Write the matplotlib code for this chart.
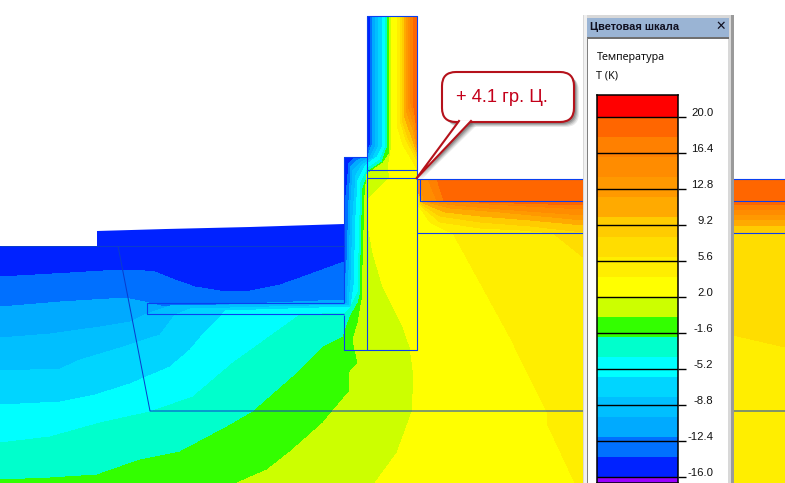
import matplotlib
matplotlib.use("Agg")
import matplotlib.pyplot as plt
from matplotlib.patches import Polygon, Rectangle, FancyBboxPatch

# ---- colour scale -------------------------------------------------
scale_ticks = [20.0, 16.4, 12.8, 9.2, 5.6, 2.0, -1.6, -5.2, -8.8, -12.4, -16.0]
band_edges = [22.2, 20, 18, 16, 14, 12, 10, 8, 6, 4, 2, 0, -2, -4, -6, -8, -10, -12, -14, -16, -16.6]
band_colors = ['#ff0000', '#ff6600', '#ff8000', '#ff8c00', '#ff9900', '#ffaa00', '#ffcc00',
               '#ffdd00', '#ffee00', '#ffff00', '#ccff00', '#33ff00', '#00ffcc', '#00ffff',
               '#00d5ff', '#00bfff', '#00aaff', '#0070ff', '#0022ff', '#9900ff']

# ---- temperature field: model outline and isotherms (picture coords) ----
domain = [(0, 246), (97, 246), (97, 231), (166, 229), (250, 227), (344, 224), (344, 157), (367, 157),
          (367, 16), (417, 16), (417, 179), (785, 179), (785, 483), (0, 483)]
# cold side of wall and ground: each boundary separates a band from the next warmer one
iso_0070ff = [(370, 16), (370, 145), (366, 154), (355, 158), (349, 163), (347, 185), (344, 215), (344, 262), (300, 278), (280, 285),
              (250, 291), (220, 291), (195, 287), (175, 280), (155, 272), (135, 270), (120, 270), (70, 273), (0, 277)]
iso_00aaff = [(372, 16), (372, 145), (368, 156), (358, 160), (351, 166), (349, 200), (347, 260), (344, 300), (165, 307),
              (145, 302), (125, 298), (60, 302), (0, 307)]
iso_00bfff = [(375, 16), (375, 147), (370, 157), (360, 163), (353, 170), (351, 200), (349, 270), (347, 303), (170, 306),
              (147, 314), (130, 322), (100, 327), (50, 334), (0, 338)]
iso_00d5ff = [(378, 16), (378, 147), (373, 158), (362, 165), (356, 175), (353, 215), (351, 280), (349, 305), (190, 309),
              (175, 315), (160, 335), (120, 348), (80, 360), (60, 369), (0, 371)]
iso_00ffff = [(382, 16), (382, 147), (377, 157), (366, 165), (358, 180), (356, 215), (354, 285), (351, 307), (225, 311),
              (222, 315), (205, 332), (190, 350), (170, 367), (130, 384), (95, 395), (60, 402), (0, 405)]
iso_00ffcc = [(385, 16), (385, 148), (380, 160), (368, 168), (360, 185), (360, 215), (358, 292), (350, 308), (345, 313),
              (300, 315), (233, 363), (193, 397), (150, 412), (100, 423), (50, 437), (0, 443)]
iso_33ff00 = [(387, 16), (387, 148), (382, 162), (370, 170), (363, 188), (362, 215), (360, 295), (358, 303), (350, 317),
              (343, 337), (323, 347), (293, 377), (253, 412), (227, 427), (180, 452), (140, 460), (97, 475), (50, 478), (0, 480)]
iso_ccff00 = [(389, 16), (389, 140), (390, 153), (383, 163), (373, 170), (367, 174), (365, 195), (362, 300), (358, 323),
              (353, 340), (358, 363), (350, 372), (349, 392), (332, 412), (323, 423), (290, 452), (267, 470), (237, 483)]
iso_ffff00 = [(391, 16), (391, 150), (388, 168), (390, 178), (367, 200), (367, 220), (373, 253), (383, 287), (403, 327),
              (410, 347), (414, 377), (412, 412), (397, 453), (375, 483)]
cold_isotherms = [('#0070ff', iso_0070ff), ('#00aaff', iso_00aaff), ('#00bfff', iso_00bfff), ('#00d5ff', iso_00d5ff),
                  ('#00ffff', iso_00ffff), ('#00ffcc', iso_00ffcc), ('#33ff00', iso_33ff00), ('#ccff00', iso_ccff00),
                  ('#ffff00', iso_ffff00)]
# warm side of the wall
wall_isotherms = [('#ffee00', [(397, 16), (397, 125), (403, 145), (412, 160), (417, 170)]),
                  ('#ffdd00', [(400, 16), (400, 120), (406, 140), (417, 160)]),
                  ('#ffcc00', [(402, 16), (402, 120), (408, 138), (417, 156)]),
                  ('#ffaa00', [(404, 16), (404, 115), (411, 135), (417, 152)]),
                  ('#ff9900', [(406, 16), (406, 110), (413, 130), (417, 148)]),
                  ('#ff8c00', [(408, 16), (408, 105), (414, 125), (417, 145)]),
                  ('#ff8000', [(410, 16), (410, 100), (415, 120), (417, 140)]),
                  ('#ff6600', [(413, 16), (413, 100), (417, 130)])]
# warm side under the floor
floor_isotherms = [('#ffee00', [(418, 205), (430, 222), (445, 230), (453, 233), (510, 337), (547, 412), (547, 423), (575, 483)]),
                   ('#ffdd00', [(420, 205), (440, 222), (480, 228), (520, 230), (553, 233), (583, 257), (650, 300), (733, 335), (785, 347)]),
                   ('#ffcc00', [(421, 204), (440, 216), (480, 222), (530, 226), (583, 232), (785, 233)]),
                   ('#ffaa00', [(423, 203), (445, 212), (480, 216), (530, 220), (583, 225), (785, 226)]),
                   ('#ff9900', [(417, 190), (423, 201), (450, 208), (500, 212), (583, 220), (785, 220)]),
                   ('#ff8c00', [(420, 179), (424, 201), (455, 205), (500, 209), (583, 215), (785, 215)]),
                   ('#ff8000', [(428, 179), (437, 201), (470, 203), (583, 209), (785, 210)]),
                   ('#ff6600', [(437, 179), (444, 201), (583, 205), (785, 205)])]

# ---- construction outlines ------------------------------------------
outlines = [[(367, 170), (367, 16), (417, 16), (417, 350), (344, 350), (344, 315)],
            [(367, 157), (344, 157), (344, 303)],
            [(367, 170), (367, 350)],
            [(367, 170), (417, 170)],
            [(367, 178), (417, 178)],
            [(417, 179), (785, 179)],
            [(420, 179), (420, 201), (785, 201)],
            [(417, 233), (785, 233)],
            [(344, 303), (147, 303), (147, 314), (344, 314)]]
thin_outlines = [[(0, 246), (344, 246)],
                 [(118, 246), (150, 411), (785, 411)]]

W, H = 785, 483
fig = plt.figure(figsize=(W / 100, H / 100), dpi=100, facecolor='white')
ax = fig.add_axes([0, 0, 1, 1])
ax.set_xlim(0, W)
ax.set_ylim(H, 0)
ax.axis('off')

clip = Polygon(domain, closed=True, transform=ax.transData, fc='none', ec='none')
ax.add_patch(clip)


def fill(points, color, z=1):
    p = Polygon(points, closed=True, fc=color, ec='none', antialiased=False, zorder=z)
    ax.add_patch(p)
    p.set_clip_path(clip)


fill([(0, 0), (W, 0), (W, H), (0, H)], '#0022ff')
for color, path in cold_isotherms:
    tail = [(0, H)] if path[-1][0] == 0 else []
    fill(path + tail + [(W, H), (W, 0), (path[0][0], 0)], color)
for color, path in wall_isotherms:
    fill(path + [(417, 0), (path[0][0], 0)], color, z=2)
for color, path in floor_isotherms:
    last = path[-1]
    tail = [(W, H)] if last[1] == H else []
    fill([(417, 179)] + path + tail + [(W, 179)], color, z=3)

LINE = '#0a40f0'
for seg in outlines:
    xs, ys = zip(*seg)
    ax.plot(xs, ys, color=LINE, lw=0.8, zorder=5, solid_capstyle='butt', snap=True)
for seg in thin_outlines:
    xs, ys = zip(*seg)
    ax.plot(xs, ys, color='#0a3ccc', lw=0.72, zorder=5, solid_capstyle='butt')

# ---- callout ----------------------------------------------------------
box = (442, 72, 132, 50)
tail_pts = [(459, 121), (471, 121), (416, 179)]
for off, a in [(5, 0.10), (4, 0.14), (3, 0.2), (2, 0.25)]:
    ax.add_patch(FancyBboxPatch((box[0] + off, box[1] + off), box[2], box[3], boxstyle='round,pad=0,rounding_size=14',
                                fc='#303030', ec='none', alpha=a, zorder=6))
    ax.add_patch(Polygon([(x + off, y + off * (1 if y < 150 else 0.2)) for x, y in tail_pts], closed=True, fc='#303030',
                         ec='none', alpha=a, zorder=6))
ax.add_patch(FancyBboxPatch((box[0], box[1]), box[2], box[3], boxstyle='round,pad=0,rounding_size=14',
                            fc='white', ec='#b5121b', lw=1.5, zorder=7))
ax.add_patch(Polygon(tail_pts, closed=True, fc='white', ec='none', zorder=8))
ax.plot([tail_pts[0][0], tail_pts[2][0], tail_pts[1][0]], [tail_pts[0][1], tail_pts[2][1], tail_pts[1][1]],
        color='#b5121b', lw=1.5, zorder=9, solid_joinstyle='miter')
ax.text(456, 97, '+ 4.1 гр. Ц.', color='#c4001a', fontsize=13.2, family='Liberation Sans', va='center', ha='left', zorder=10)

# ---- colour scale window ---------------------------------------------
ax.add_patch(Rectangle((583, 15), 150.5, H - 15, fc='#d8d8d8', ec='none', zorder=20))
ax.add_patch(Rectangle((584, 15), 2.5, H - 15, fc='#f0f0f0', ec='none', zorder=20))
ax.add_patch(Rectangle((731, 15), 2.5, H - 15, fc='#9a9a9a', ec='none', zorder=20))
ax.add_patch(Rectangle((587, 18), 142, 19, fc='#9ab4d4', ec='none', zorder=21))
ax.add_patch(Rectangle((587, 37), 142, 1.5, fc='#707070', ec='none', zorder=21))
ax.add_patch(Rectangle((588, 38.5), 139.5, H - 38.5, fc='white', ec='none', zorder=21))
ax.add_patch(Rectangle((587, 38), 1.3, H - 38, fc='#808080', ec='none', zorder=21))
ax.text(589.5, 27.5, 'Цветовая шкала', fontsize=7.9, fontweight='bold', family='Liberation Sans', color='#101020',
        va='center', ha='left', zorder=22)
ax.text(721, 26.5, '✕', fontsize=9, fontweight='bold', family='DejaVu Sans', color='#101020', va='center', ha='center', zorder=22)
ax.text(596.5, 57.5, 'Температура', fontsize=7.8, family='Noto Sans', color='#111111', va='center', ha='left', zorder=22)
ax.text(596.5, 76, 'T (K)', fontsize=7.8, family='Noto Sans', color='#111111', va='center', ha='left', zorder=22)

# bar: a real axes with the temperature scale (10 px per degree)
bar_x0, bar_x1, bar_top = 597, 678, 95
bar = fig.add_axes([bar_x0 / W, 0, (bar_x1 - bar_x0) / W, (H - bar_top) / H], zorder=30)
bar.set_ylim(band_edges[-1], band_edges[0])
bar.set_xlim(0, 1)
for i, color in enumerate(band_colors):
    bar.axhspan(band_edges[i + 1], band_edges[i], color=color, lw=0, antialiased=False)
bar.set_xticks([])
bar.set_yticks(scale_ticks)
bar.yaxis.tick_right()
bar.tick_params(axis='y', length=5.8, width=1, color='black', labelright=False)
bar.grid(axis='y', color='black', lw=1)
bar.set_axisbelow(False)
for s in bar.spines.values():
    s.set_linewidth(1.1)
    s.set_color('black')
for v in scale_ticks:
    bar.text(1.435, v + 0.42, f'{v:.1f}', fontsize=8.2, family='Liberation Sans', color='#111111', va='center', ha='right',
             transform=bar.get_yaxis_transform(), clip_on=False)

fig.savefig('out.png', dpi=100, facecolor='white')
